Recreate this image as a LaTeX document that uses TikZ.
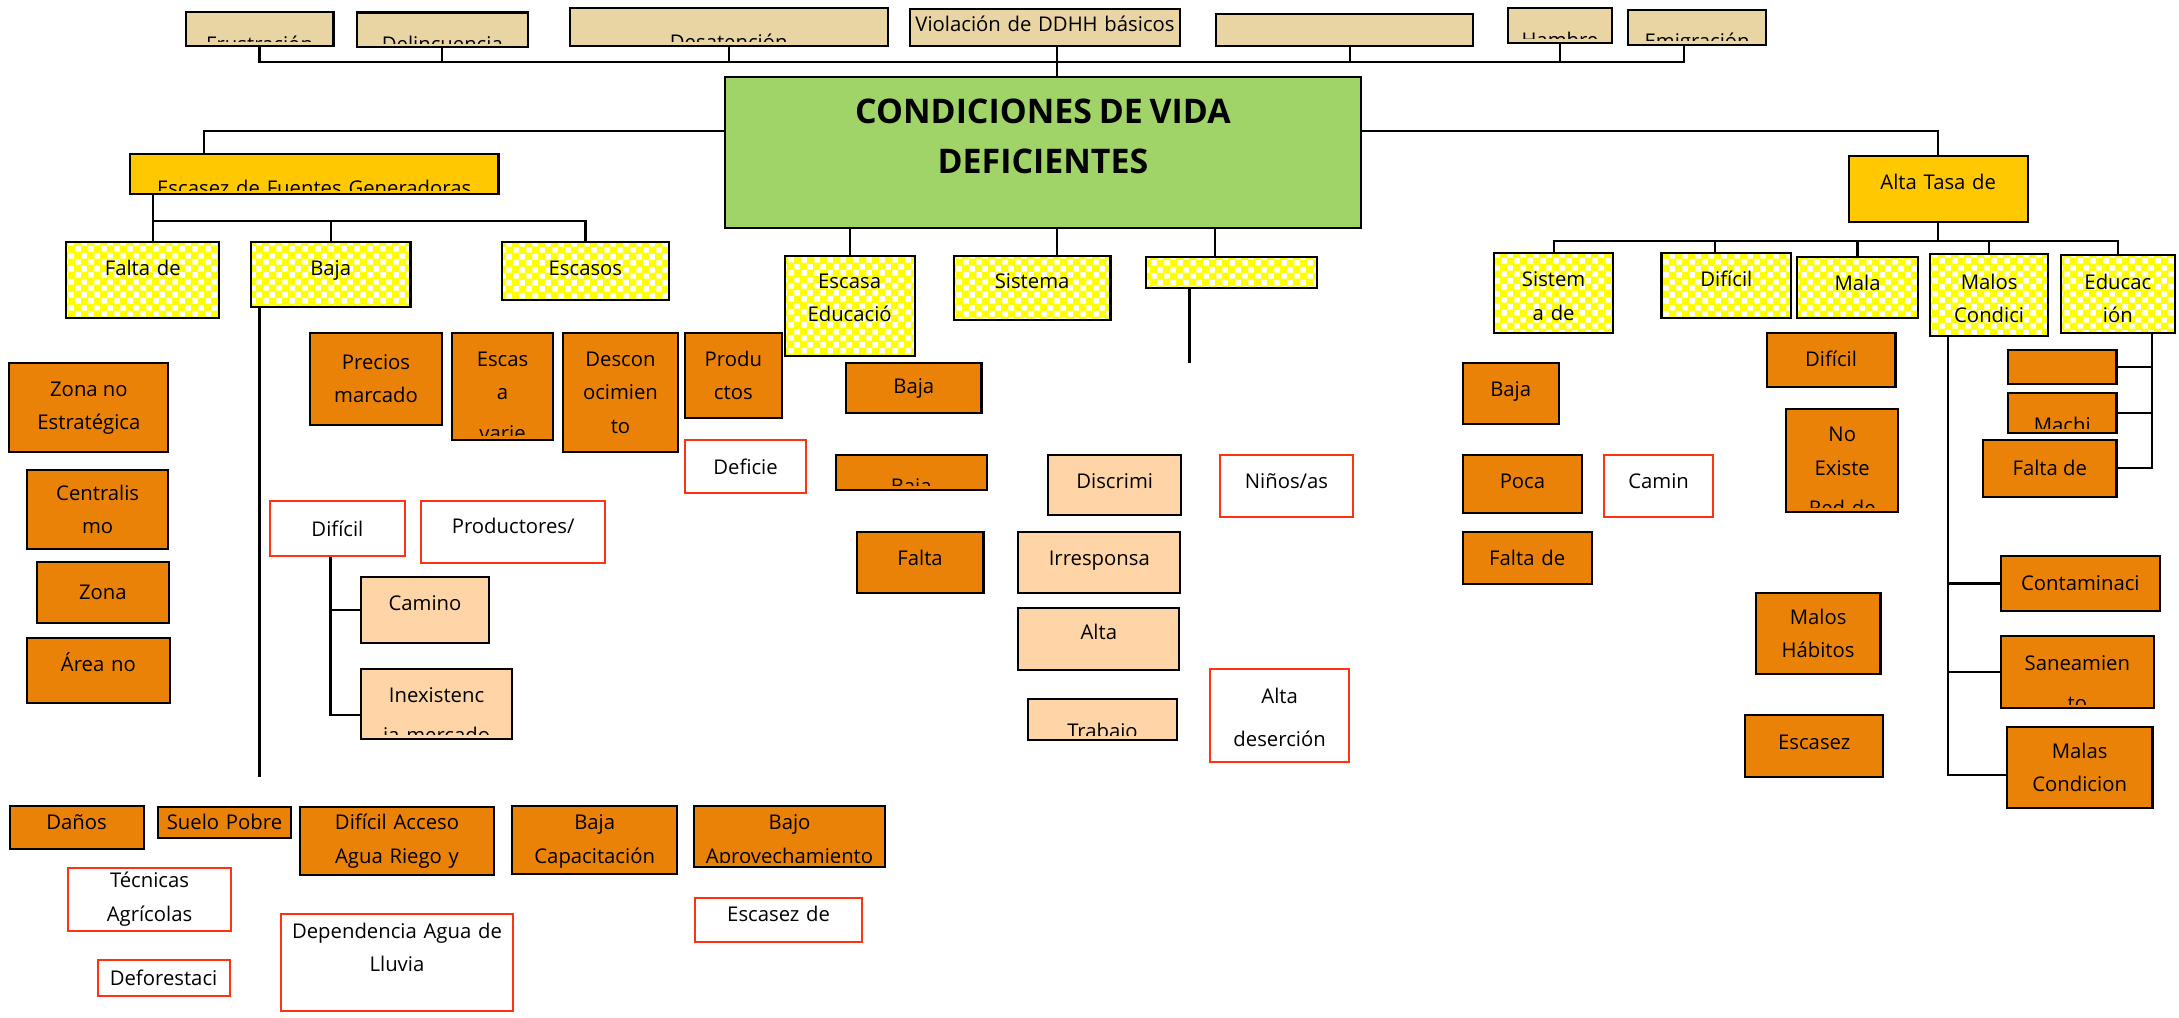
\documentclass[tikz,border=0pt]{standalone}
\usepackage{fontspec}
\setmainfont{Open Sans}
\usetikzlibrary{patterns}
\definecolor{tanc}{HTML}{E9D4A4}
\definecolor{grn}{HTML}{A0D468}
\definecolor{ylw}{HTML}{FFC800}
\definecolor{chkyel}{HTML}{FFFF00}
\definecolor{org}{HTML}{E98207}
\definecolor{pch}{HTML}{FFD4A6}
\definecolor{redl}{HTML}{FF3311}
\newcommand\txtfont{\fontsize{14.6}{24}\selectfont}
\newcommand\titlefont{\fontsize{24.4}{36}\selectfont\bfseries}
% yellow checks of the small boxes
\pgfdeclarepatternformonly{ychecks}{\pgfpointorigin}{\pgfpoint{9pt}{9pt}}{\pgfpoint{9pt}{9pt}}{%
  \pgfpathrectangle{\pgfpoint{0.3pt}{0.3pt}}{\pgfpoint{4.1pt}{4.1pt}}%
  \pgfpathrectangle{\pgfpoint{4.8pt}{4.8pt}}{\pgfpoint{4.1pt}{4.1pt}}%
  \pgfusepath{fill}}
\begin{document}
\begin{tikzpicture}[x=1pt,y=-1pt,
  conn/.style={line width=1.6pt},
  sz/.style 2 args={minimum width=#1,minimum height=#2},
  txt/.style={font=\txtfont,align=center,inner sep=1pt},
  ctext/.style 2 args={path picture={
    \clip ([yshift=3pt]path picture bounding box.south west) rectangle (path picture bounding box.north east);
    \node[font=\txtfont,text width=300pt,align=center,inner sep=0pt,anchor=base] at ([yshift=-#1pt]path picture bounding box.north) {#2};}},
  tanbox/.style={draw,line width=1.5pt,fill=tanc,txt},
  gbox/.style={draw,line width=1.5pt,fill=grn,txt},
  ybox/.style={draw,line width=1.5pt,fill=ylw,txt},
  chk/.style={draw,line width=1.5pt,preaction={fill=chkyel},pattern=ychecks,pattern color=white,txt},
  obox/.style={draw,line width=1.5pt,fill=org,txt},
  pbox/.style={draw,line width=1.5pt,fill=pch,txt},
  rbox/.style={draw=redl,line width=1.5pt,fill=white,txt}]
\path[use as bounding box,fill=white] (0,0) rectangle (1568,732);

% top row
\node[tanbox,sz={106.4}{24.5},ctext={29}{Frustración}] (frus) at (186.8,20.65) {};
\node[tanbox,sz={123.4}{25},ctext={28}{Delincuencia}] (delin) at (318.3,21.5) {};
\node[tanbox,sz={228.8}{26.9},ctext={29.5}{Desatención}] (desat) at (524.4,19.45) {};
\node[tanbox,sz={194}{26.3},ctext={16.1}{Violación de DDHH básicos}] (viol) at (752,19.85) {};
\node[tanbox,sz={185.2}{23}] (viol2) at (967.4,21.5) {};
\node[tanbox,sz={75}{25},ctext={28}{Hambre}] (hamb) at (1122.5,18.5) {};
\node[tanbox,sz={99.5}{25.2},ctext={27.5}{Emigración}] (emig) at (1221.25,19.8) {};

% main problem
\node[gbox,sz={457.4}{108.2},ctext={33.2}{\titlefont CONDICIONES DE VIDA\\[12pt]DEFICIENTES}] (green) at (750.5,109.7) {};
\node[ybox,sz={265.2}{29},ctext={29.7}{Escasez de Fuentes Generadoras}] (escf) at (226.1,125.3) {};
\node[ybox,sz={128.5}{48},ctext={24}{Alta Tasa de}] (alta) at (1394.75,136) {};

% checked boxes
\node[chk,sz={110.3}{55.1},ctext={24}{Falta de}] (faltaf) at (102.75,201.45) {};
\node[chk,sz={114.8}{47.2},ctext={24}{Baja}] (bajay) at (238,197.5) {};
\node[chk,sz={120.5}{42.3},ctext={24}{Escasos}] (escasos) at (421.25,195.05) {};
\node[chk,sz={93.4}{72.2},ctext={23.5}{Escasa\\Educació}] (edu) at (611.4,220.1) {};
\node[chk,sz={112.8}{46},ctext={23.5}{Sistema}] (sist) at (742.7,207) {};
\node[chk,sz={123}{22.5}] (y6) at (886,195.95) {};
\node[chk,sz={86}{57.6},ctext={24.5}{Sistem\\a de}] (sistem) at (1118,210.6) {};
\node[chk,sz={93.3}{47.2},ctext={24.5}{Difícil}] (dify) at (1242.25,205.4) {};
\node[chk,sz={87.5}{44.3},ctext={24.5}{Mala}] (mala) at (1336.65,206.85) {};
\node[chk,sz={84.7}{58.5},ctext={25}{Malos\\Condici}] (malos) at (1431.35,212.25) {};
\node[chk,sz={82}{55.7},ctext={24.5}{Educac\\ión}] (educ) at (1524,211.55) {};

% left causes
\node[obox,sz={95.2}{66.4}] (precios) at (270.6,272.6) {Precios\\marcado};
\node[obox,sz={72.7}{77.2},ctext={24.4}{Escas\\a\\[5pt]varie}] (escas) at (361.65,278) {};
\node[obox,sz={83}{86.1}] (descon) at (446.5,282.45) {Descon\\ocimien\\to};
\node[obox,sz={69.4}{61.6}] (produ) at (527.7,270.2) {Produ\\ctos};
\node[rbox,sz={87}{38.4}] (deficie) at (536.5,335.8) {Deficie};
\node[obox,sz={114.4}{64}] (zona1) at (64,293.5) {Zona no\\Estratégica};
\node[obox,sz={101.8}{56.8}] (central) at (70.3,366.6) {Centralis\\mo};
\node[obox,sz={95.1}{43.9}] (zona2) at (74.05,426.55) {Zona};
\node[obox,sz={102.8}{46.3},ctext={24}{Área no}] (area) at (70.8,482.45) {};
\node[rbox,sz={97.2}{39.4}] (dific) at (242.8,380.2) {Difícil};
\node[rbox,sz={132.2}{44.4},ctext={23.3}{Productores/}] (produc) at (369.3,382.7) {};
\node[pbox,sz={92}{47},ctext={24}{Camino}] (camino) at (305.8,438.9) {};
\node[pbox,sz={108.7}{50.4},ctext={24.2}{Inexistenc\\[5pt]ia mercado}] (inex) at (314.15,506.6) {};

% bottom row
\node[obox,sz={96.4}{31.1},ctext={17.2}{Daños}] (danos) at (55.1,595.55) {};
\node[obox,sz={95.5}{22.3},ctext={16.7}{Suelo Pobre}] (suelo) at (161.55,591.65) {};
\node[obox,sz={140}{49.1},ctext={16.7}{Difícil Acceso\\Agua Riego y}] (difacc) at (285.7,605.05) {};
\node[obox,sz={118.9}{48.9},ctext={17.2}{Baja\\Capacitación}] (bajacap) at (427.95,604.45) {};
\node[obox,sz={137.7}{43.6},ctext={17.2}{Bajo\\Aprovechamiento}] (bajoap) at (568.15,601.8) {};
\node[rbox,sz={117}{45.6}] (tecn) at (107.6,647.1) {Técnicas\\Agrícolas};
\node[rbox,sz={95}{25.9}] (defor) at (117.7,703.75) {Deforestaci};
\node[rbox,sz={167.5}{69.6},ctext={17.5}{Dependencia Agua de\\Lluvia}] (depend) at (285.65,692.5) {};
\node[rbox,sz={120.2}{31.7},ctext={16.8}{Escasez de}] (escred) at (560.3,662.25) {};

% centre causes
\node[obox,sz={97.4}{35.9}] (bajae) at (657.6,279.45) {Baja};
\node[obox,sz={108.6}{25.2},ctext={28}{Baja}] (bajac) at (655.7,340) {};
\node[obox,sz={91.3}{44.4},ctext={24}{Falta}] (faltac) at (662.05,404.8) {};
\node[pbox,sz={95.7}{43.2},ctext={24}{Discrimi}] (discr) at (802.15,349) {};
\node[rbox,sz={95.1}{44.4},ctext={24}{Niños/as}] (ninos) at (925.75,349.6) {};
\node[pbox,sz={116.5}{44.4},ctext={24}{Irresponsa}] (irresp) at (791.05,404.8) {};
\node[pbox,sz={115.8}{44.4},ctext={22.8}{Alta}] (altap) at (790.7,459.9) {};
\node[pbox,sz={107.3}{29.3},ctext={28.5}{Trabajo}] (trabajo) at (793.35,517.85) {};
\node[rbox,sz={99.6}{66.5},ctext={24.4}{Alta\\[7pt]deserción}] (altad) at (920.8,514.85) {};

% right causes
\node[obox,sz={69.2}{43.9},ctext={24}{Baja}] (bajar) at (1087.1,283.45) {};
\node[obox,sz={86.1}{42},ctext={24}{Poca}] (poca) at (1095.55,348.4) {};
\node[rbox,sz={78.7}{44.4},ctext={24}{Camin}] (camin) at (1193.55,349.6) {};
\node[obox,sz={92.9}{37.9},ctext={24}{Falta de}] (faltar) at (1098.95,401.55) {};
\node[obox,sz={92.8}{38.8},ctext={24.4}{Difícil}] (difo) at (1317.6,258.8) {};
\node[obox,sz={80.3}{73.9},ctext={23.3}{No\\Existe\\[5pt]Red de}] (noex) at (1325.65,331.45) {};
\node[obox,sz={89.8}{58.5}] (malhab) at (1308.3,455.75) {Malos\\Hábitos};
\node[obox,sz={99}{44.4},ctext={24.7}{Escasez}] (escz) at (1305.5,536.7) {};
\node[obox,sz={78}{24.4}] (tabu) at (1484,264.1) {};
\node[obox,sz={78}{28.4},ctext={28}{Machi}] (machi) at (1484,297.2) {};
\node[obox,sz={96}{40.8}] (faltae) at (1475,337) {Falta de};
\node[obox,sz={114.6}{39.7}] (contam) at (1497,419.85) {Contaminaci};
\node[obox,sz={110.3}{52},ctext={24.9}{Saneamien\\[5pt]to}] (sane) at (1494.85,483.7) {};
\node[obox,sz={104.8}{58.8}] (malas) at (1496.5,552.3) {Malas\\Condicion};

% connectors
\coordinate (topbus) at (0,44.8);
\draw[conn] (frus.south) -- (frus.south |- topbus) -| ([xshift=-9.6pt]emig.south);
\draw[conn] (delin.south) -- (delin.south |- topbus);
\draw[conn] (desat.south) -- (desat.south |- topbus);
\draw[conn] ([xshift=8.8pt]viol.south) -- ([xshift=8.8pt]viol.south |- green.north);
\draw[conn] ([xshift=4.3pt]viol2.south) -- ([xshift=4.3pt]viol2.south |- topbus);
\draw[conn] (hamb.south) -- (hamb.south |- topbus);
\draw[conn] ([yshift=15.7pt]green.west) -| ([xshift=-79.5pt]escf.north);
\draw[conn] ([yshift=15.7pt]green.east) -| (alta.north);
\draw[conn] (edu.north |- green.south) -- (edu.north);
\draw[conn] ([xshift=8.8pt]viol.south |- green.south) -- ([xshift=8.8pt]viol.south |- sist.north);
\coordinate (y6top) at (874.4,184.7);
\draw[conn] (y6top |- green.south) -- (y6top);
\coordinate (y6down) at (856,261.5);
\draw[conn] (y6down |- y6.south) -- (y6down);
\coordinate (lbus) at (110,158.8);
\draw[conn] (lbus |- escf.south) -- (lbus |- faltaf.north);
\draw[conn] (lbus) -| (escasos.north);
\draw[conn] (lbus -| bajay.north) -- (bajay.north);
\coordinate (bajaend) at (186.8,558.9);
\draw[conn] (bajaend |- bajay.south) -- (bajaend);
\draw[conn] ([xshift=-5pt]dific.south) |- (camino.west);
\draw[conn] ([xshift=-5pt]dific.south) |- ([yshift=-7.9pt]inex.west);
\coordinate (rbus) at (0,173.2);
\draw[conn] (alta.south) -- (alta.south |- rbus);
\draw[conn] (sistem.north) -- (sistem.north |- rbus) -| (educ.north);
\draw[conn] ([xshift=-8pt]dify.north) -- ([xshift=-8pt]dify.north |- rbus);
\draw[conn] (mala.north) -- (mala.north |- rbus);
\draw[conn] (malos.north) -- (malos.north |- rbus);
\draw[conn] ([xshift=13.5pt]malos.south west) |- (contam.west);
\draw[conn] ([xshift=13.5pt]malos.south west) |- (sane.west);
\draw[conn] ([xshift=13.5pt]malos.south west) |- ([yshift=-5.4pt]malas.west);
\draw[conn] ([xshift=-17pt]educ.south east) |- (tabu.east);
\draw[conn] ([xshift=-17pt]educ.south east) |- (machi.east);
\draw[conn] ([xshift=-17pt]educ.south east) |- (faltae.east);
\end{tikzpicture}
\end{document}
